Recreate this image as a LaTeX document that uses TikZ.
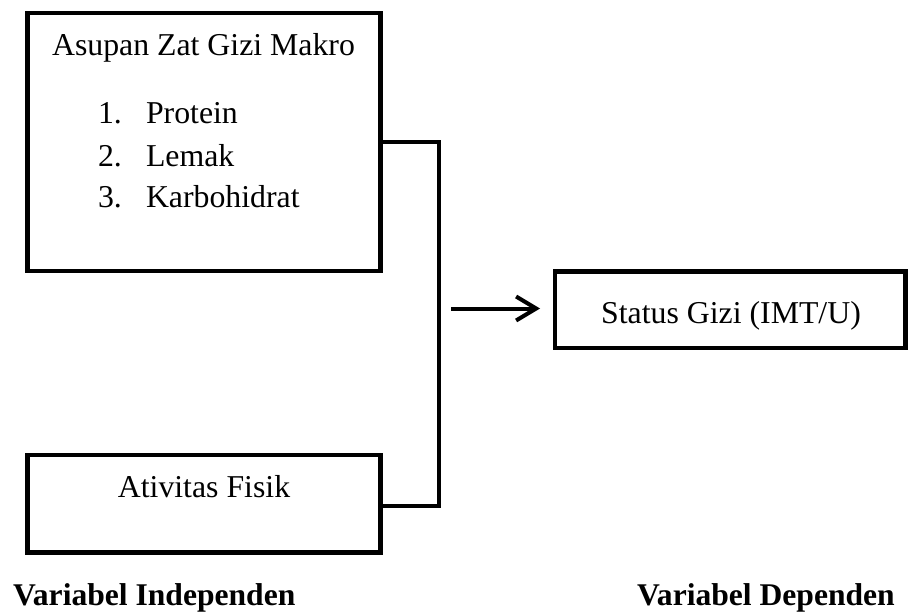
\documentclass[tikz,border=0pt]{standalone}
\usepackage{fontspec}
\setmainfont{Liberation Serif}
\usetikzlibrary{arrows.meta}
\tikzset{
  boxstyle/.style={draw=black, line width=4.6pt, inner sep=0pt, outer sep=0pt, line join=miter},
  txt/.style={inner sep=0pt, outer sep=0pt, font=\fontsize{31.8}{38}\selectfont},
  lbl/.style={inner sep=0pt, outer sep=0pt, font=\fontsize{31.6}{38}\selectfont\bfseries},
  conn/.style={draw=black, line width=3.5pt, line join=miter},
  arr/.style={draw=black, line width=4pt},
}
\begin{document}
\begin{tikzpicture}[x=1pt,y=-1pt]
\useasboundingbox (0,0) rectangle (909,613);
% boxes
\node[boxstyle, minimum width=353pt, minimum height=258pt] (b1) at (204,142) {};
\node[boxstyle, minimum width=353pt, minimum height=97.5pt] (b2) at (204,503.75) {};
\node[boxstyle, minimum width=350.5pt, minimum height=76.5pt] (st) at (730.25,309.75) {};
% texts
\node[txt, anchor=base] (t1) at (203.5,55) {Asupan Zat Gizi Makro};
\node[txt, anchor=base west] (n1) at (98,123) {1.};
\node[txt, anchor=base west] (i1) at (146,123) {Protein};
\node[txt, anchor=base west] (n2) at (98,166) {2.};
\node[txt, anchor=base west] (i2) at (146,166) {Lemak};
\node[txt, anchor=base west] (n3) at (98,207) {3.};
\node[txt, anchor=base west] (i3) at (146,207) {Karbohidrat};
\node[txt, anchor=base] (t2) at (204,497) {Ativitas Fisik};
\node[txt, anchor=base] (t3) at (731,323) {Status Gizi (IMT/U)};
\node[lbl, anchor=base west] (l1) at (13,605) {Variabel Independen};
\node[lbl, anchor=base west] (l2) at (637,605) {Variabel Dependen};
% connectors
\coordinate (j) at (439,142);
\coordinate (k) at (439,506);
\coordinate (a) at (451,308.5);
\draw[conn] (j -| b1.east) -- (j) -- (k) -- (k -| b2.east);
\draw[arr, -{Straight Barb[length=20pt, width=24pt, line width=4pt]}, shorten >=15pt] (a) -- (a -| st.west);
\end{tikzpicture}
\end{document}
